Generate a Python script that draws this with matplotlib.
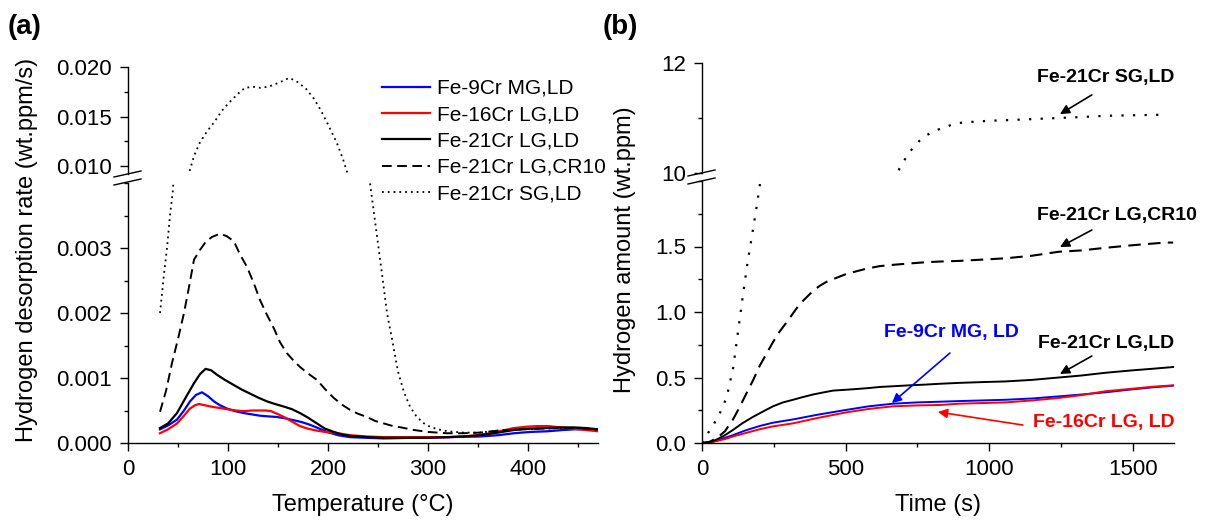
import matplotlib
matplotlib.use('Agg')
import matplotlib.pyplot as plt
from matplotlib.lines import Line2D
from matplotlib.ticker import MultipleLocator

plt.rcParams['font.family'] = ['Liberation Sans', 'DejaVu Sans']

# ---------------- data: panel (a) TDS desorption rate ----------------
labels_a = ['Fe-9Cr MG,LD', 'Fe-16Cr LG,LD', 'Fe-21Cr LG,LD', 'Fe-21Cr LG,CR10', 'Fe-21Cr SG,LD']

T_9cr = [32, 40, 49, 56, 62, 68, 74, 80, 86, 92, 99, 107, 116, 124, 132, 140, 149, 157, 166, 174,
         182, 190, 199, 210, 222, 239, 256, 286, 320, 352, 370, 386, 402, 419, 435, 446, 458, 470]
R_9cr = [0.00021, 0.00027, 0.00036, 0.00050, 0.00064, 0.00074, 0.00078, 0.00072, 0.00064, 0.00058,
         0.00053, 0.00049, 0.00046, 0.00044, 0.00042, 0.00041, 0.00040, 0.00038, 0.00035, 0.00032,
         0.00028, 0.00023, 0.00017, 0.00012, 0.00009, 0.00008, 0.00007, 0.00008, 0.00009, 0.00010,
         0.00012, 0.00015, 0.00017, 0.00018, 0.00020, 0.00021, 0.00021, 0.00020]

T_16cr = [32, 40, 49, 56, 62, 67, 71, 77, 83, 91, 99, 108, 116, 124, 132, 138, 143, 149, 156, 164,
          172, 180, 189, 197, 206, 214, 222, 239, 256, 286, 320, 336, 350, 362, 374, 386, 398, 409,
          420, 433, 446, 458, 470]
R_16cr = [0.00015, 0.00021, 0.00030, 0.00042, 0.00053, 0.00058, 0.00060, 0.00058, 0.00056, 0.00054,
          0.00052, 0.00050, 0.00049, 0.00050, 0.00050, 0.00050, 0.00049, 0.00045, 0.00040, 0.00033,
          0.00026, 0.00022, 0.00019, 0.00017, 0.00016, 0.00014, 0.00012, 0.00010, 0.00009, 0.00009,
          0.00009, 0.00010, 0.00012, 0.00015, 0.00019, 0.00023, 0.00025, 0.00026, 0.00026, 0.00024,
          0.00022, 0.00020, 0.00018]

T_21lg = [32, 40, 49, 57, 66, 72, 77.5, 83, 89, 97, 106, 114, 122, 130, 139, 147, 156, 164, 172,
          180, 189, 197, 206, 214, 222, 239, 256, 272, 300, 319, 335, 352, 370, 386, 402, 419, 435,
          446, 458, 470]
R_21lg = [0.00023, 0.00030, 0.00046, 0.00068, 0.00092, 0.00106, 0.00114, 0.00112, 0.00105, 0.00097,
          0.00089, 0.00082, 0.00076, 0.00070, 0.00064, 0.00060, 0.00056, 0.00052, 0.00046, 0.00039,
          0.00030, 0.00022, 0.00017, 0.00013, 0.00011, 0.00009, 0.00008, 0.00008, 0.00008, 0.00009,
          0.00010, 0.00012, 0.00016, 0.00020, 0.00022, 0.00023, 0.00024, 0.00024, 0.00023, 0.00021]

T_cr10 = [32, 38, 44, 50, 56, 61, 66, 72, 78, 84, 92, 99, 106, 112, 119, 126, 132, 139, 146, 152,
          159, 166, 172, 180, 189, 197, 206, 214, 222, 230, 239, 247, 256, 265, 273, 286, 300, 319,
          335, 352, 370, 390, 410, 430, 450, 470]
R_cr10 = [0.00048, 0.00080, 0.00123, 0.00160, 0.00200, 0.00240, 0.00282, 0.00297, 0.00310, 0.00317,
          0.00322, 0.00318, 0.00310, 0.00290, 0.00271, 0.00245, 0.00220, 0.00197, 0.00176, 0.00155,
          0.00138, 0.00126, 0.00117, 0.00107, 0.00097, 0.00083, 0.00069, 0.00059, 0.00051, 0.00045,
          0.00040, 0.00034, 0.00030, 0.00026, 0.00024, 0.00020, 0.00017, 0.00015, 0.00015, 0.00016,
          0.00019, 0.00021, 0.00022, 0.00023, 0.00023, 0.00021]

T_sg = [32, 36, 39, 42, 45, 53, 61, 66, 71.5, 79, 86, 94, 102, 110, 117, 125, 132, 140, 148, 155,
        161, 168, 178, 186, 193, 201, 209, 215, 220, 231, 242, 248, 254, 259, 264, 270, 276, 282,
        288, 295, 302, 310, 320, 335, 352, 370, 390, 410, 430, 450, 470]
R_sg = [0.0020, 0.0026, 0.0030, 0.0035, 0.0039, 0.0065, 0.0093, 0.0110, 0.0123, 0.0135, 0.0144,
        0.0156, 0.0165, 0.0173, 0.0179, 0.0180, 0.0179, 0.0180, 0.0183, 0.0186, 0.0189, 0.0186,
        0.0178, 0.0168, 0.0156, 0.0140, 0.0123, 0.0107, 0.0091, 0.0065, 0.0040, 0.0033, 0.0026,
        0.0020, 0.0016, 0.00110, 0.00078, 0.00056, 0.00042, 0.00031, 0.00025, 0.00021, 0.00018,
        0.00016, 0.00016, 0.00019, 0.00021, 0.00022, 0.00023, 0.00023, 0.00020]

# ---------------- data: panel (b) cumulative hydrogen amount ----------------
t_9cr = [0, 25, 51, 80, 108, 150, 201, 247, 317, 400, 500, 580, 664, 750, 826, 895, 976, 1057,
         1150, 1242, 1320, 1404, 1500, 1570, 1640]
H_9cr = [0, 0.003, 0.018, 0.04, 0.06, 0.095, 0.13, 0.155, 0.18, 0.215, 0.252, 0.28, 0.30, 0.31,
         0.315, 0.32, 0.325, 0.33, 0.34, 0.356, 0.37, 0.387, 0.41, 0.425, 0.438]

t_16cr = [0, 25, 51, 80, 108, 150, 201, 247, 317, 400, 500, 580, 664, 750, 826, 895, 976, 1057,
          1150, 1242, 1320, 1404, 1500, 1570, 1640]
H_16cr = [0, 0.002, 0.015, 0.03, 0.05, 0.075, 0.105, 0.127, 0.15, 0.19, 0.233, 0.26, 0.28, 0.287,
          0.29, 0.30, 0.305, 0.31, 0.325, 0.344, 0.365, 0.395, 0.415, 0.43, 0.44]

t_21lg = [0, 25, 51, 80, 108, 140, 178, 212, 247, 282, 317, 350, 386, 420, 456, 490, 525, 555,
          583, 620, 664, 720, 779, 826, 895, 976, 1057, 1150, 1242, 1320, 1404, 1500, 1570, 1640]
H_21lg = [0, 0.006, 0.026, 0.06, 0.10, 0.15, 0.20, 0.24, 0.28, 0.31, 0.33, 0.35, 0.37, 0.385,
          0.40, 0.405, 0.41, 0.415, 0.42, 0.428, 0.433, 0.44, 0.446, 0.452, 0.459, 0.465, 0.47,
          0.482, 0.50, 0.515, 0.536, 0.555, 0.567, 0.58]

t_cr10 = [0, 25, 51, 80, 108, 130, 155, 178, 201, 224, 247, 270, 294, 317, 340, 363, 386, 410,
          433, 467, 502, 536, 571, 618, 664, 720, 779, 826, 895, 976, 1057, 1150, 1242, 1320,
          1404, 1500, 1612, 1640]
H_cr10 = [0, 0.008, 0.036, 0.09, 0.18, 0.27, 0.38, 0.48, 0.59, 0.68, 0.77, 0.85, 0.92, 0.99,
          1.06, 1.11, 1.16, 1.20, 1.23, 1.26, 1.29, 1.31, 1.33, 1.35, 1.36, 1.37, 1.38, 1.385,
          1.39, 1.40, 1.41, 1.43, 1.46, 1.47, 1.49, 1.51, 1.53, 1.53]

t_sg = [0, 5, 28, 57, 86, 109, 126, 142, 158, 173, 190, 202, 215,
        670, 687, 710, 733, 756, 779, 808, 837, 866, 895, 941, 1000, 1057, 1150, 1242, 1330,
        1404, 1500, 1612]
H_sg = [0, 0.02, 0.10, 0.20, 0.35, 0.58, 0.86, 1.12, 1.37, 1.57, 1.80, 1.98, 2.25,
        9.8, 10.08, 10.28, 10.45, 10.58, 10.68, 10.76, 10.82, 10.87, 10.91, 10.93, 10.95, 10.96,
        10.98, 11.0, 11.02, 11.04, 11.05, 11.06]

# ---------------- figure ----------------
W, H = 1208, 522
fig = plt.figure(figsize=(W / 100, H / 100), dpi=100)


def px_axes(l, t, r, b):
    return fig.add_axes([l / W, 1 - b / H, (r - l) / W, (b - t) / H])


def style(ax, lower):
    for s in ['top', 'right']:
        ax.spines[s].set_visible(False)
    for s in ['left', 'bottom']:
        ax.spines[s].set_linewidth(1.0)
    ax.tick_params(which='major', direction='out', length=5.5, width=1.0, labelsize=16, pad=6)
    ax.tick_params(which='minor', direction='out', length=3, width=1.0)
    ax.patch.set_alpha(0)
    if not lower:
        ax.spines['bottom'].set_visible(False)
        ax.tick_params(axis='x', which='both', bottom=False, labelbottom=False)


def break_marks(xpx, ycs):
    for yc in ycs:
        fig.add_artist(Line2D([(xpx - 14) / W, (xpx + 13) / W],
                              [1 - (yc + 3) / H, 1 - (yc - 3) / H],
                              transform=fig.transFigure, color='black', lw=1.0))


# ---- panel (a)
axa_lo = px_axes(128, 183, 598, 443)
axa_hi = px_axes(128, 67, 598, 174)
style(axa_lo, True)
style(axa_hi, False)

series_a = [
    (T_9cr, R_9cr, dict(color='#0000FF', lw=1.6, ls='-')),
    (T_16cr, R_16cr, dict(color='#FF0000', lw=1.6, ls='-')),
    (T_21lg, R_21lg, dict(color='black', lw=1.6, ls='-')),
    (T_cr10, R_cr10, dict(color='black', lw=1.4, ls=(0, (5, 2.8)))),
    (T_sg, R_sg, dict(color='black', lw=1.3, ls=(0, (1, 2.2)))),
]
handles = []
for (x, y, st), lab in zip(series_a, labels_a):
    ln, = axa_lo.plot(x, y, label=lab, **st)
    axa_hi.plot(x, y, **st)
    handles.append(ln)

for ax in (axa_lo, axa_hi):
    ax.set_xlim(0, 470)
axa_lo.set_ylim(0, 0.004)
axa_hi.set_ylim(0.0092, 0.020)
axa_lo.set_xticks([0, 100, 200, 300, 400])
axa_lo.xaxis.set_minor_locator(MultipleLocator(50))
axa_lo.set_yticks([0, 0.001, 0.002, 0.003], ['0.000', '0.001', '0.002', '0.003'])
axa_lo.yaxis.set_minor_locator(MultipleLocator(0.0005))
axa_hi.set_yticks([0.010, 0.015, 0.020], ['0.010', '0.015', '0.020'])
axa_hi.yaxis.set_minor_locator(MultipleLocator(0.0025))
break_marks(128, [174, 182])

fig.legend(handles=handles, loc='upper left', bbox_to_anchor=(382 / W, 1 - 79 / H),
           bbox_transform=fig.transFigure, frameon=False, fontsize=15, borderpad=0,
           borderaxespad=0, handlelength=2.3, handletextpad=0.35, labelspacing=0.35)

fig.text(363 / W, 1 - 505 / H, 'Temperature (°C)', ha='center', va='center', fontsize=17)
fig.text(27 / W, 1 - 250 / H, 'Hydrogen desorption rate (wt.ppm/s)', ha='center', va='center',
         rotation=90, fontsize=17)
fig.text(8 / W, 1 - 27 / H, '(a)', ha='left', va='center', fontsize=20, fontweight='bold')

# ---- panel (b)
axb_lo = px_axes(702, 181, 1174, 443)
axb_hi = px_axes(702, 63, 1174, 173)
style(axb_lo, True)
style(axb_hi, False)

series_b = [
    (t_9cr, H_9cr, dict(color='#0000FF', lw=1.4, ls='-')),
    (t_16cr, H_16cr, dict(color='#FF0000', lw=1.4, ls='-')),
    (t_21lg, H_21lg, dict(color='black', lw=1.4, ls='-')),
    (t_cr10, H_cr10, dict(color='black', lw=1.5, ls=(0, (6, 3.5)))),
    (t_sg, H_sg, dict(color='black', lw=1.6, ls=(0, (1, 4.2)))),
]
for x, y, st in series_b:
    axb_lo.plot(x, y, **st)
    axb_hi.plot(x, y, **st)

for ax in (axb_lo, axb_hi):
    ax.set_xlim(0, 1643)
axb_lo.set_ylim(0, 2.0)
axb_hi.set_ylim(10, 12)
axb_lo.set_xticks([0, 500, 1000, 1500])
axb_lo.xaxis.set_minor_locator(MultipleLocator(250))
axb_lo.set_yticks([0, 0.5, 1.0, 1.5], ['0.0', '0.5', '1.0', '1.5'])
axb_lo.yaxis.set_minor_locator(MultipleLocator(0.25))
axb_hi.set_yticks([10, 12], ['10', '12'])
axb_hi.yaxis.set_minor_locator(MultipleLocator(1))
break_marks(702, [173, 181])

fig.text(938 / W, 1 - 505 / H, 'Time (s)', ha='center', va='center', fontsize=17)
fig.text(625 / W, 1 - 250 / H, 'Hydrogen amount (wt.ppm)', ha='center', va='center',
         rotation=90, fontsize=17)
fig.text(603 / W, 1 - 27 / H, '(b)', ha='left', va='center', fontsize=20, fontweight='bold')

arrow = dict(arrowstyle='-|>', lw=1.2, mutation_scale=14, shrinkA=0, shrinkB=0)
# upper annotation
axb_hi.text(1406, 11.73, 'Fe-21Cr SG,LD', ha='center', va='center', fontsize=14,
            fontweight='bold', color='black')
axb_hi.annotate('', xy=(1246, 11.07), xytext=(1357, 11.42),
                arrowprops=dict(arrow, color='black'))
# lower annotations
axb_lo.text(1444, 1.74, 'Fe-21Cr LG,CR10', ha='center', va='center', fontsize=14,
            fontweight='bold', color='black', clip_on=False)
axb_lo.annotate('', xy=(1246, 1.496), xytext=(1357, 1.626), arrowprops=dict(arrow, color='black'))
axb_lo.text(1406, 0.763, 'Fe-21Cr LG,LD', ha='center', va='center', fontsize=14,
            fontweight='bold', color='black')
axb_lo.annotate('', xy=(1246, 0.527), xytext=(1357, 0.664), arrowprops=dict(arrow, color='black'))
axb_lo.text(1399, 0.153, 'Fe-16Cr LG, LD', ha='center', va='center', fontsize=14,
            fontweight='bold', color='#FF0000')
axb_lo.annotate('', xy=(821, 0.237), xytext=(1117, 0.137), arrowprops=dict(arrow, color='#FF0000'))
axb_lo.text(870, 0.847, 'Fe-9Cr MG, LD', ha='center', va='center', fontsize=14,
            fontweight='bold', color='#0000FF')
axb_lo.annotate('', xy=(661, 0.305), xytext=(863, 0.687), arrowprops=dict(arrow, color='#0000FF'))

fig.savefig('out.png', dpi=100)
